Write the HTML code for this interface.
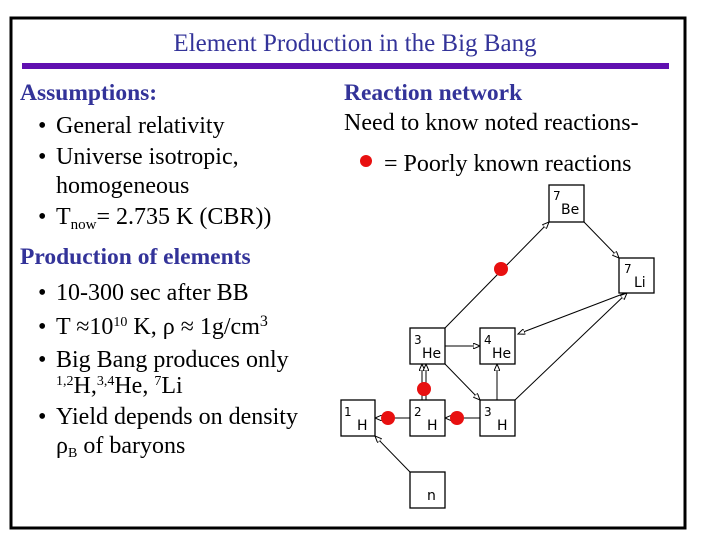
<!DOCTYPE html>
<html><head><style>body{margin:0;background:#fff}svg{display:block}</style></head><body>
<svg width="720" height="540" xmlns="http://www.w3.org/2000/svg" font-family="Liberation Serif, serif">
<defs>
<marker id="a" markerWidth="8" markerHeight="6" refX="7" refY="3" orient="auto" markerUnits="userSpaceOnUse"><path d="M0,0 L7,3 L0,6 Z" fill="#fff" stroke="#000" stroke-width="1"/></marker>
</defs>
<rect x="11" y="18" width="674" height="510" fill="#fff" stroke="#000" stroke-width="3"/>
<text x="355" y="51" text-anchor="middle" font-size="25" fill="#333399">Element Production in the Big Bang</text>
<rect x="22" y="63" width="647" height="6" fill="#6010b0"/>
<g font-size="24">
<text x="20" y="100" font-weight="bold" font-size="23.5" fill="#333399">Assumptions:</text>
<text x="38" y="133">•</text><text x="56" y="133">General relativity</text>
<text x="38" y="164">•</text><text x="56" y="164">Universe isotropic,</text>
<text x="56" y="193">homogeneous</text>
<text x="38" y="224">•</text><text x="56" y="224">T<tspan font-size="15" dy="5">now</tspan><tspan dy="-5">= 2.735 K (CBR))</tspan></text>
<text x="20" y="264" font-weight="bold" font-size="23.5" fill="#333399">Production of elements</text>
<text x="38" y="300">•</text><text x="56" y="300">10-300 sec after BB</text>
<text x="38" y="334">•</text><text x="56" y="334">T ≈10<tspan font-size="14" dy="-8">10</tspan><tspan dy="8"> K, ρ ≈ 1g/cm</tspan><tspan font-size="16" dy="-8">3</tspan></text>
<text x="38" y="367">•</text><text x="56" y="367">Big Bang produces  only</text>
<text x="56" y="393"><tspan font-size="14" dy="-8">1,2</tspan><tspan dy="8">H,</tspan><tspan font-size="14" dy="-8">3,4</tspan><tspan dy="8">He, </tspan><tspan font-size="14" dy="-8">7</tspan><tspan dy="8">Li</tspan></text>
<text x="38" y="424">•</text><text x="56" y="424">Yield  depends on density</text>
<text x="56" y="453">ρ<tspan font-size="14" dy="4">B</tspan><tspan dy="-4"> of baryons</tspan></text>
<text x="344" y="100" font-weight="bold" font-size="23.5" fill="#333399">Reaction network</text>
<text x="344" y="130">Need to know noted reactions-</text>
<text x="384" y="171">= Poorly known reactions</text>
</g>
<circle cx="366" cy="161" r="6" fill="#e81010"/>
<g stroke="#000" stroke-width="1" fill="none" marker-end="url(#a)">
<line x1="445" y1="328" x2="549" y2="222"/>
<line x1="584" y1="222" x2="619" y2="258"/>
<line x1="628" y1="292" x2="518" y2="334"/>
<line x1="515" y1="400" x2="627" y2="293"/>
<line x1="445" y1="346" x2="480" y2="346"/>
<line x1="445" y1="364" x2="480" y2="400"/>
<line x1="497" y1="400" x2="497" y2="364"/>
<line x1="410" y1="418" x2="375" y2="418"/>
<line x1="480" y1="418" x2="445" y2="418"/>
<line x1="422" y1="400" x2="422" y2="364"/>
<line x1="426" y1="400" x2="426" y2="364"/>
<line x1="410" y1="472" x2="375" y2="436"/>
</g>
<g fill="#fff" stroke="#000" stroke-width="1.3">
<rect x="549" y="185" width="35" height="37"/>
<rect x="619" y="258" width="35" height="35"/>
<rect x="410" y="328" width="35" height="36"/>
<rect x="480" y="328" width="35" height="36"/>
<rect x="341" y="400" width="34" height="36"/>
<rect x="410" y="400" width="35" height="36"/>
<rect x="480" y="400" width="35" height="36"/>
<rect x="410" y="472" width="35" height="36"/>
</g>
<g font-family="DejaVu Sans, sans-serif" font-size="14">
<text x="553" y="200" font-size="12">7</text><text x="561" y="214">Be</text>
<text x="624" y="273" font-size="12">7</text><text x="634" y="287">Li</text>
<text x="414" y="344" font-size="12">3</text><text x="422" y="358">He</text>
<text x="484" y="344" font-size="12">4</text><text x="492" y="358">He</text>
<text x="344" y="416" font-size="12">1</text><text x="357" y="430">H</text>
<text x="414" y="416" font-size="12">2</text><text x="427" y="430">H</text>
<text x="484" y="416" font-size="12">3</text><text x="497" y="430">H</text>
<text x="427" y="500">n</text>
</g>
<g fill="#e81010">
<circle cx="501" cy="269" r="7"/>
<circle cx="424" cy="389" r="7"/>
<circle cx="388" cy="418" r="7"/>
<circle cx="457" cy="418" r="7"/>
</g>
</svg>
</body></html>
